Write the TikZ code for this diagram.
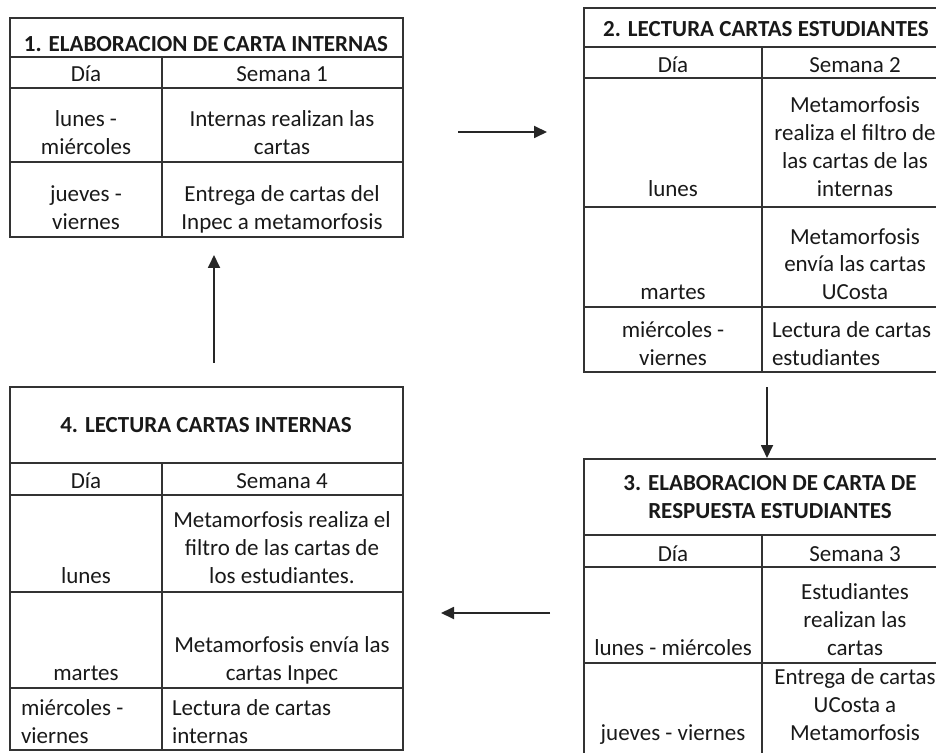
\documentclass[tikz,border=0pt]{standalone}
\usepackage{fontspec}
\setmainfont{Carlito}
\usetikzlibrary{arrows.meta}
\begin{document}
\lineskiplimit=-20pt\relax
\begin{tikzpicture}[x=0.5pt,y=-0.5pt,inner sep=0pt,outer sep=0pt,
grid/.style={draw=black!80,line width=0.9pt},
txt/.style={anchor=base,align=center,text=black!90,font=\fontsize{11.5}{14}\selectfont},
txtl/.style={txt,anchor=base west,align=left},
head/.style={txt,font=\fontsize{11.5}{14}\selectfont\bfseries},
flow/.style={draw=black!85,line width=0.9pt,-{Triangle[length=6.5pt,width=6pt]}}]
\useasboundingbox (0,0) rectangle (936,753);
\clip (0,0) rectangle (936,753);
% table 1
\draw[grid] (10,18) rectangle (403,237);
\draw[grid] (10,57) -- (403,57) (10,88) -- (403,88) (10,162) -- (403,162) (162,57) -- (162,237);
\draw (206,52) node[head] (t1title) {1. ELABORACION DE CARTA INTERNAS};
\draw (86,82) node[txt] (t1day) {Día};
\draw (282,82) node[txt] (t1week) {Semana 1};
\draw (86,155) node[txt] (t1d1) {lunes -\\miércoles};
\draw (282,155) node[txt] (t1w1) {Internas realizan las\\cartas};
\draw (86,230) node[txt] (t1d2) {jueves -\\viernes};
\draw (282,230) node[txt] (t1w2) {Entrega de cartas del\\Inpec a metamorfosis};
% table 2
\draw[grid] (584,8) rectangle (948,372);
\draw[grid] (584,47) -- (948,47) (584,78) -- (948,78) (584,207) -- (948,207) (584,307) -- (948,307) (762,47) -- (762,372);
\draw (766,37) node[head] (t2title) {2. LECTURA CARTAS ESTUDIANTES};
\draw (673,73) node[txt] (t2day) {Día};
\draw (855,73) node[txt] (t2week) {Semana 2};
\draw (673,197) node[txt] (t2d1) {lunes};
\draw (855,197) node[txt] (t2w1) {Metamorfosis\\realiza el filtro de\\las cartas de las\\internas};
\draw (673,300) node[txt] (t2d2) {martes};
\draw (855,300) node[txt] (t2w2) {Metamorfosis\\envía las cartas\\UCosta};
\draw (673,365) node[txt] (t2d3) {miércoles -\\viernes};
\draw (772,365) node[txtl] (t2w3) {Lectura de cartas\\estudiantes};
% table 3
\draw[grid] (584,459) rectangle (948,770);
\draw[grid] (584,535) -- (948,535) (584,567) -- (948,567) (584,663) -- (948,663) (762,535) -- (762,770);
\draw (770,518) node[head] (t3title) {3. ELABORACION DE CARTA DE\\RESPUESTA ESTUDIANTES};
\draw (673,561) node[txt] (t3day) {Día};
\draw (855,561) node[txt] (t3week) {Semana 3};
\draw (673,655) node[txt] (t3d1) {lunes - miércoles};
\draw (855,655) node[txt] (t3w1) {Estudiantes\\realizan las\\cartas};
\draw (673,740) node[txt] (t3d2) {jueves - viernes};
\draw (855,740) node[txt] (t3w2) {Entrega de cartas\\UCosta a\\Metamorfosis};
% table 4
\draw[grid] (10,387) rectangle (403,750);
\draw[grid] (10,463) -- (403,463) (10,495) -- (403,495) (10,592) -- (403,592) (10,688) -- (403,688) (162,463) -- (162,750);
\draw (206,432) node[head] (t4title) {4. LECTURA CARTAS INTERNAS};
\draw (86,488) node[txt] (t4day) {Día};
\draw (282,488) node[txt] (t4week) {Semana 4};
\draw (86,583) node[txt] (t4d1) {lunes};
\draw (282,583) node[txt] (t4w1) {Metamorfosis realiza el\\filtro de las cartas de\\los estudiantes.};
\draw (86,680) node[txt] (t4d2) {martes};
\draw (282,680) node[txt] (t4w2) {Metamorfosis envía las\\cartas Inpec};
\draw (21,743) node[txtl] (t4d3) {miércoles -\\viernes};
\draw (172,743) node[txtl] (t4w3) {Lectura de cartas\\internas};
% arrows
\coordinate (a12s) at (458,132); \coordinate (a12e) at (547,132);
\coordinate (a23s) at (767,387); \coordinate (a23e) at (767,458);
\coordinate (a34s) at (550,613); \coordinate (a34e) at (441,613);
\coordinate (a41s) at (214,363); \coordinate (a41e) at (214,255);
\draw[flow] (a12s) -- (a12e);
\draw[flow] (a23s) -- (a23e);
\draw[flow] (a34s) -- (a34e);
\draw[flow] (a41s) -- (a41e);
\end{tikzpicture}
\end{document}
